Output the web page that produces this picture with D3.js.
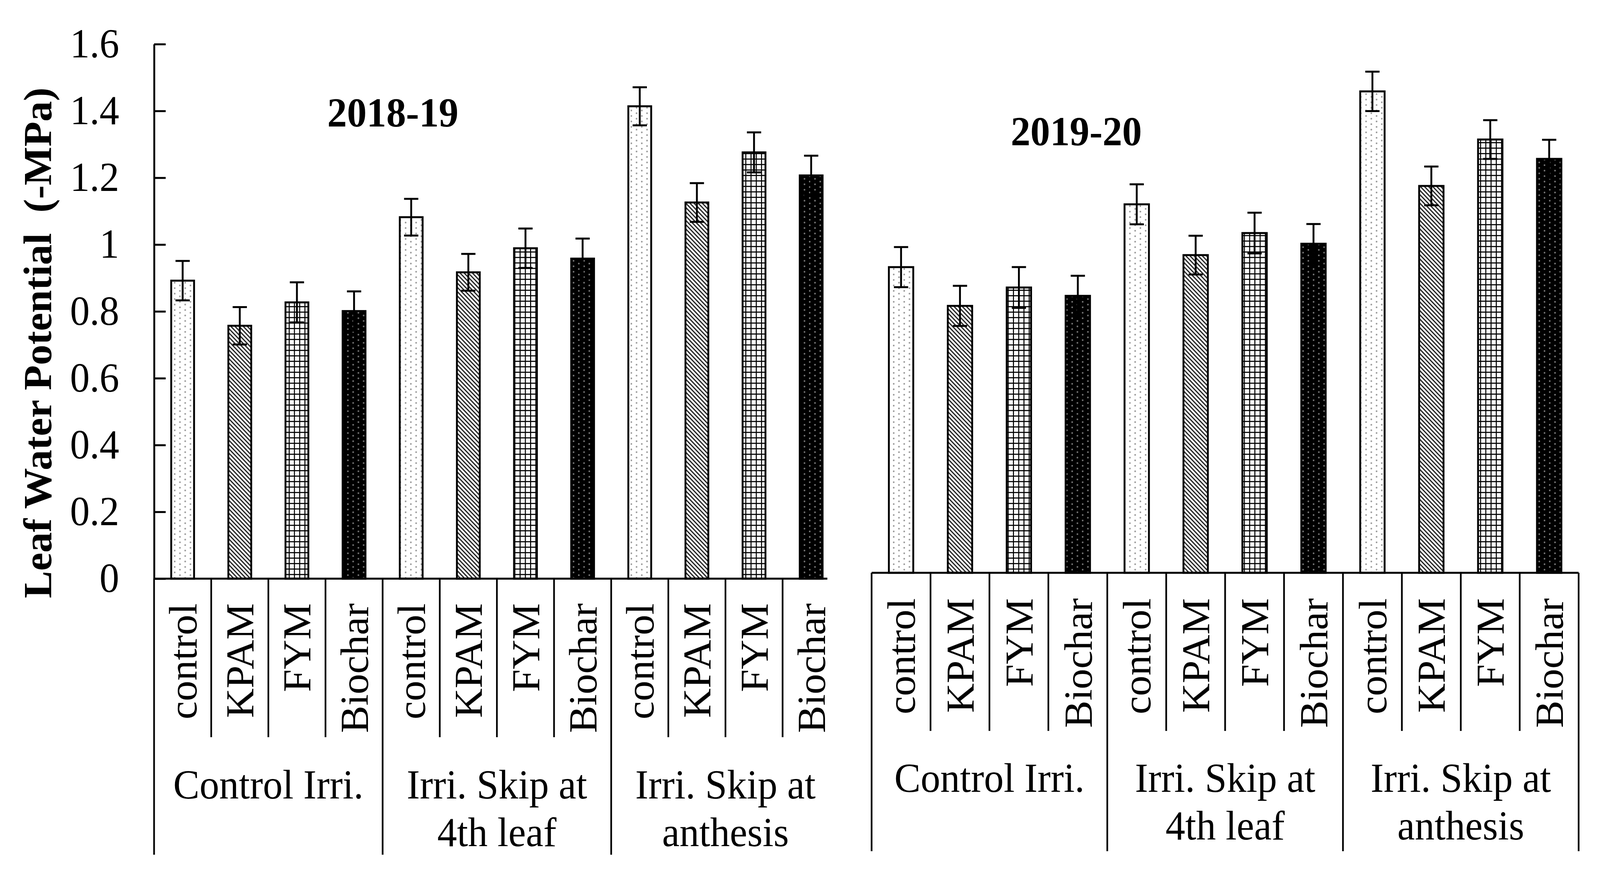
<!DOCTYPE html>
<html>
<head>
<meta charset="utf-8">
<script src="https://cdn.jsdelivr.net/npm/d3@7"></script>
<style>
  html, body { margin: 0; padding: 0; background: #fff; overflow: hidden; }
  svg { display: block; }
  text { font-family: "Liberation Serif", "Times New Roman", serif; fill: #000; }
</style>
</head>
<body>
<script>
var width = 4268;
var height = 2264;

// data (leaf water potential, -MPa)
var treatments = ["control", "KPAM", "FYM", "Biochar"];
var groupLines = [["Control Irri."], ["Irri. Skip at", "4th leaf"], ["Irri. Skip at", "anthesis"]];
var lwp2018 = [0.892, 0.757, 0.827, 0.801, 1.082, 0.917, 0.989, 0.958, 1.414, 1.126, 1.276, 1.207];
var err2018 = [0.059, 0.056, 0.060, 0.059, 0.055, 0.055, 0.059, 0.060, 0.057, 0.058, 0.060, 0.059];
var lwp2019 = [0.915, 0.799, 0.854, 0.829, 1.103, 0.951, 1.017, 0.985, 1.441, 1.158, 1.297, 1.239];
var err2019 = [0.060, 0.060, 0.061, 0.060, 0.060, 0.058, 0.061, 0.059, 0.059, 0.058, 0.058, 0.057];
var yTicks = [0, 0.2, 0.4, 0.6, 0.8, 1, 1.2, 1.4, 1.6];
var yTickLabels = ["0", "0.2", "0.4", "0.6", "0.8", "1", "1.2", "1.4", "1.6"];

// scale to whatever the viewport is
var svg = d3.select("body").append("svg")
            .attr("viewBox", "0 0 " + width + " " + height)
            .attr("preserveAspectRatio", "none")
            .style("width", "100vw")
            .style("height", "100vh");

var defs = svg.append("defs");

// fill patterns, one per treatment
var pDots = defs.append("pattern").attr("id", "p-control")
    .attr("patternUnits", "userSpaceOnUse").attr("width", 28).attr("height", 14);
pDots.append("rect").attr("width", 28).attr("height", 14).attr("fill", "#fff");
pDots.append("circle").attr("cx", 4).attr("cy", 3).attr("r", 2.2).attr("fill", "#999");
pDots.append("circle").attr("cx", 18).attr("cy", 10).attr("r", 2.2).attr("fill", "#999");

var pDiag = defs.append("pattern").attr("id", "p-KPAM")
    .attr("patternUnits", "userSpaceOnUse").attr("width", 11).attr("height", 11);
pDiag.append("rect").attr("width", 11).attr("height", 11).attr("fill", "#fff");
pDiag.append("path").attr("d", "M-2,-2L13,13M-2,9L2,13M9,-2L13,2")
     .attr("stroke", "#222").attr("stroke-width", 3.2);

var pGrid = defs.append("pattern").attr("id", "p-FYM")
    .attr("patternUnits", "userSpaceOnUse").attr("width", 14).attr("height", 14);
pGrid.append("rect").attr("width", 14).attr("height", 14).attr("fill", "#fff");
pGrid.append("path").attr("d", "M0,0V14M0,0H14")
     .attr("stroke", "#000").attr("stroke-width", 5.5);

var pBlack = defs.append("pattern").attr("id", "p-Biochar")
    .attr("patternUnits", "userSpaceOnUse").attr("width", 28).attr("height", 14);
pBlack.append("rect").attr("width", 28).attr("height", 14).attr("fill", "#000");
pBlack.append("circle").attr("cx", 4).attr("cy", 3).attr("r", 2.2).attr("fill", "#777");
pBlack.append("circle").attr("cx", 18).attr("cy", 10).attr("r", 2.2).attr("fill", "#777");

// left chart is partly covered by the right one
defs.append("clipPath").attr("id", "clip-left")
    .append("rect").attr("x", 0).attr("y", 0).attr("width", 2207).attr("height", height);

function drawPanel(g, opt) {
  var idx = d3.range(opt.values.length);
  var x = d3.scaleBand().domain(idx).range([opt.x0, opt.x1]).paddingInner(0).paddingOuter(0);
  var y = d3.scaleLinear().domain([0, 1.6]).range([opt.zero, opt.top]);
  var bw = x.bandwidth() * opt.barRatio;
  var step = x.step();

  // bars
  g.append("g").selectAll("rect")
   .data(idx)
   .enter()
   .append("rect")
   .attr("x", function(i) { return x(i) + (step - bw) / 2; })
   .attr("y", function(i) { return y(opt.values[i]); })
   .attr("width", bw)
   .attr("height", function(i) { return y(0) - y(opt.values[i]); })
   .attr("fill", function(i) { return "url(#p-" + treatments[i % 4] + ")"; })
   .attr("stroke", "#000")
   .attr("stroke-width", 5);

  // error bars
  var eb = g.append("g").attr("stroke", "#000").attr("stroke-width", 5)
            .selectAll("g").data(idx).enter().append("g");
  eb.append("line")
    .attr("x1", function(i) { return x(i) + step / 2; })
    .attr("x2", function(i) { return x(i) + step / 2; })
    .attr("y1", function(i) { return y(opt.values[i] - opt.errs[i]); })
    .attr("y2", function(i) { return y(opt.values[i] + opt.errs[i]); });
  [-1, 1].forEach(function(s) {
    eb.append("line")
      .attr("x1", function(i) { return x(i) + step / 2 - 19; })
      .attr("x2", function(i) { return x(i) + step / 2 + 19; })
      .attr("y1", function(i) { return y(opt.values[i] + s * opt.errs[i]); })
      .attr("y2", function(i) { return y(opt.values[i] + s * opt.errs[i]); });
  });

  // category table under the axis
  var tbl = g.append("g").attr("stroke", "#000").attr("stroke-width", 4.5);
  tbl.append("line")
     .attr("x1", opt.x0).attr("x2", opt.x1)
     .attr("y1", y(0)).attr("y2", y(0))
     .attr("stroke-width", 5);
  tbl.selectAll(".sep")
     .data(d3.range(opt.values.length + 1))
     .enter()
     .append("line")
     .attr("class", "sep")
     .attr("x1", function(i) { return opt.x0 + i * step; })
     .attr("x2", function(i) { return opt.x0 + i * step; })
     .attr("y1", y(0))
     .attr("y2", function(i) { return i % 4 == 0 ? opt.groupBottom : opt.catBottom; });

  g.append("g").selectAll("text")
   .data(idx)
   .enter()
   .append("text")
   .attr("transform", function(i) { return "translate(" + (x(i) + step / 2) + "," + opt.catTop + ") rotate(-90)"; })
   .attr("text-anchor", "end")
   .attr("dy", "0.35em")
   .attr("font-size", 105)
   .text(function(i) { return treatments[i % 4]; });

  var gl = g.append("g").selectAll("text")
    .data(groupLines)
    .enter()
    .append("text")
    .attr("text-anchor", "middle")
    .attr("font-size", 105)
    .attr("y", opt.groupBase);
  gl.selectAll("tspan")
    .data(function(d, gi) { return d.map(function(t) { return [t, gi]; }); })
    .enter()
    .append("tspan")
    .attr("x", function(d) { return opt.x0 + (d[1] * 4 + 2) * step; })
    .attr("dy", function(d, k) { return k == 0 ? 0 : 122; })
    .text(function(d) { return d[0]; });

  g.append("text")
   .attr("x", opt.titleX)
   .attr("y", opt.titleY)
   .attr("text-anchor", "middle")
   .attr("font-size", 105)
   .attr("font-weight", "bold")
   .text(opt.title);

  return y;
}

var left = svg.append("g").attr("clip-path", "url(#clip-left)");
var yLeft = drawPanel(left, {
  values: lwp2018, errs: err2018, x0: 411, x1: 2240, zero: 1482, top: 113, barRatio: 0.4,
  catTop: 1545, catBottom: 1888, groupBottom: 2189, groupBase: 2045,
  title: "2018-19", titleX: 1048, titleY: 324
});

drawPanel(svg.append("g"), {
  values: lwp2019, errs: err2019, x0: 2325, x1: 4211, zero: 1467, top: 98, barRatio: 0.414,
  catTop: 1532, catBottom: 1872, groupBottom: 2180, groupBase: 2028,
  title: "2019-20", titleX: 2871, titleY: 372
});

// y axis (ticks point into the plot)
var yAxis = d3.axisLeft(yLeft)
    .tickValues(yTicks)
    .tickFormat(function(d, i) { return yTickLabels[i]; })
    .tickSizeInner(-31)
    .tickSizeOuter(0)
    .tickPadding(93);
var ya = svg.append("g")
   .attr("transform", "translate(411,0)")
   .call(yAxis);
ya.selectAll("path, line").attr("stroke", "#000").attr("stroke-width", 5);
ya.selectAll("text")
  .attr("font-size", 105)
  .attr("font-family", "Liberation Serif")
  .attr("dy", "0.32em");

svg.append("text")
   .attr("transform", "translate(137,878) rotate(-90)")
   .attr("text-anchor", "middle")
   .attr("font-size", 105)
   .attr("font-weight", "bold")
   .style("white-space", "pre")
   .text("Leaf Water Potential  (-MPa)");
</script>
</body>
</html>
